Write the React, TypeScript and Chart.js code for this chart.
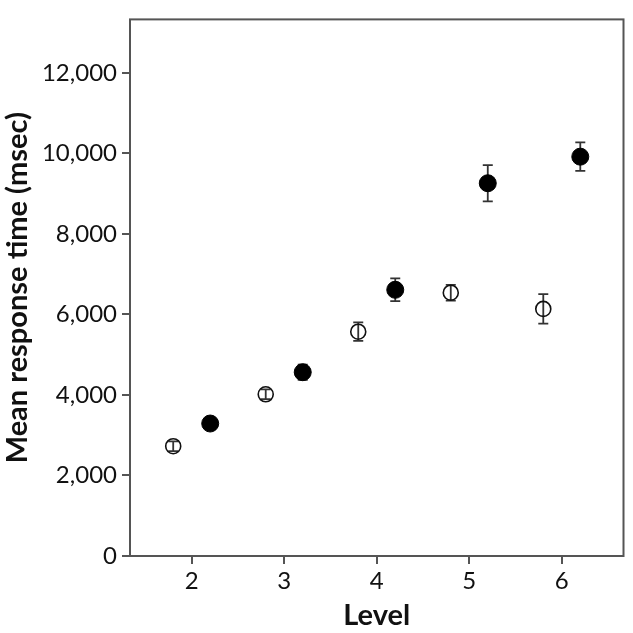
import React, { useEffect, useRef } from "react";
import { Chart, registerables } from "chart.js";

Chart.register(...registerables);

// Open circles (lower group)
const openLevels = [1.8, 2.8, 3.8, 4.8, 5.8];
const openMeans = [2727, 4017, 5572, 6540, 6138];
const openErrors = [120, 120, 230, 195, 365];

// Filled circles (upper group)
const filledLevels = [2.2, 3.2, 4.2, 5.2, 6.2];
const filledMeans = [3291, 4566, 6613, 9260, 9920];
const filledErrors = [110, 190, 283, 452, 355];

const xTicks = [2, 3, 4, 5, 6];
const yTicks = [0, 2000, 4000, 6000, 8000, 10000, 12000];

const X_MIN = 1.333;
const X_MAX = 6.667;
const Y_MIN = 0;
const Y_MAX = 13330;

const FONT = "Lato, 'DejaVu Sans', sans-serif";

const frameAndErrorBars = {
  id: "frameAndErrorBars",
  beforeDatasetsDraw(chart: any) {
    const { ctx, scales } = chart;
    const xs = scales.x;
    const ys = scales.y;
    ctx.save();
    ctx.strokeStyle = "#333333";
    ctx.lineWidth = 1.8;
    chart.data.datasets.forEach((ds: any) => {
      ds.data.forEach((p: any) => {
        const px = xs.getPixelForValue(p.x);
        const top = ys.getPixelForValue(p.y + p.err);
        const bot = ys.getPixelForValue(p.y - p.err);
        const cap = 5;
        ctx.beginPath();
        ctx.moveTo(px, top);
        ctx.lineTo(px, bot);
        ctx.moveTo(px - cap, top);
        ctx.lineTo(px + cap, top);
        ctx.moveTo(px - cap, bot);
        ctx.lineTo(px + cap, bot);
        ctx.stroke();
      });
    });
    ctx.restore();
  },
  afterDraw(chart: any) {
    const { ctx, chartArea } = chart;
    ctx.save();
    ctx.strokeStyle = "#555555";
    ctx.lineWidth = 2;
    ctx.strokeRect(
      chartArea.left,
      chartArea.top,
      chartArea.right - chartArea.left,
      chartArea.bottom - chartArea.top
    );
    ctx.restore();
  },
};

export default function App() {
  const canvasRef = useRef<HTMLCanvasElement | null>(null);

  useEffect(() => {
    document.body.style.margin = "0";
    const canvas = canvasRef.current;
    if (!canvas) return;

    const openData = openLevels.map((x, i) => ({ x, y: openMeans[i], err: openErrors[i] }));
    const filledData = filledLevels.map((x, i) => ({ x, y: filledMeans[i], err: filledErrors[i] }));

    const chart = new Chart(canvas, {
      type: "scatter",
      data: {
        datasets: [
          {
            label: "Open",
            data: openData,
            pointStyle: "circle",
            pointRadius: 7.5,
            pointBorderWidth: 1.6,
            pointBorderColor: "#111111",
            pointBackgroundColor: "rgba(255,255,255,0)",
            showLine: false,
          },
          {
            label: "Filled",
            data: filledData,
            pointStyle: "circle",
            pointRadius: 8.5,
            pointBorderWidth: 1,
            pointBorderColor: "#000000",
            pointBackgroundColor: "#000000",
            showLine: false,
          },
        ],
      },
      options: {
        responsive: false,
        animation: false,
        layout: { padding: { top: 5, right: 5, left: 0, bottom: 0 } },
        plugins: {
          legend: { display: false },
          tooltip: { enabled: false },
        },
        scales: {
          x: {
            type: "linear",
            min: X_MIN,
            max: X_MAX,
            afterBuildTicks: (scale: any) => {
              scale.ticks = xTicks.map((v) => ({ value: v }));
            },
            afterFit: (scale: any) => {
              scale.height = 77;
            },
            grid: {
              drawOnChartArea: false,
              drawTicks: true,
              tickLength: 8,
              color: "#555555",
              lineWidth: 2,
            },
            border: { display: false },
            ticks: {
              padding: 3,
              color: "#111111",
              font: { family: FONT, size: 24 },
              callback: (v: any) => String(v),
            },
            title: {
              display: true,
              text: "Level",
              color: "#111111",
              font: { family: FONT, size: 29, weight: "bold", lineHeight: 1.2 },
              padding: { top: 0, bottom: 0 },
            },
          },
          y: {
            type: "linear",
            min: Y_MIN,
            max: Y_MAX,
            afterBuildTicks: (scale: any) => {
              scale.ticks = yTicks.map((v) => ({ value: v }));
            },
            afterFit: (scale: any) => {
              scale.width = 130;
            },
            grid: {
              drawOnChartArea: false,
              drawTicks: true,
              tickLength: 8,
              color: "#555555",
              lineWidth: 2,
            },
            border: { display: false },
            ticks: {
              padding: 5,
              color: "#111111",
              font: { family: FONT, size: 24 },
              callback: (v: any) => Number(v).toLocaleString("en-US"),
            },
            title: {
              display: true,
              text: "Mean response time (msec)",
              color: "#111111",
              font: { family: FONT, size: 29, weight: "bold", lineHeight: 1.2 },
              padding: { top: 0, bottom: 0 },
            },
          },
        },
      },
      plugins: [frameAndErrorBars],
    });

    return () => {
      chart.destroy();
    };
  }, []);

  return (
    <div style={{ width: 633, height: 633, background: "#ffffff" }}>
      <canvas ref={canvasRef} width={633} height={633} />
    </div>
  );
}
